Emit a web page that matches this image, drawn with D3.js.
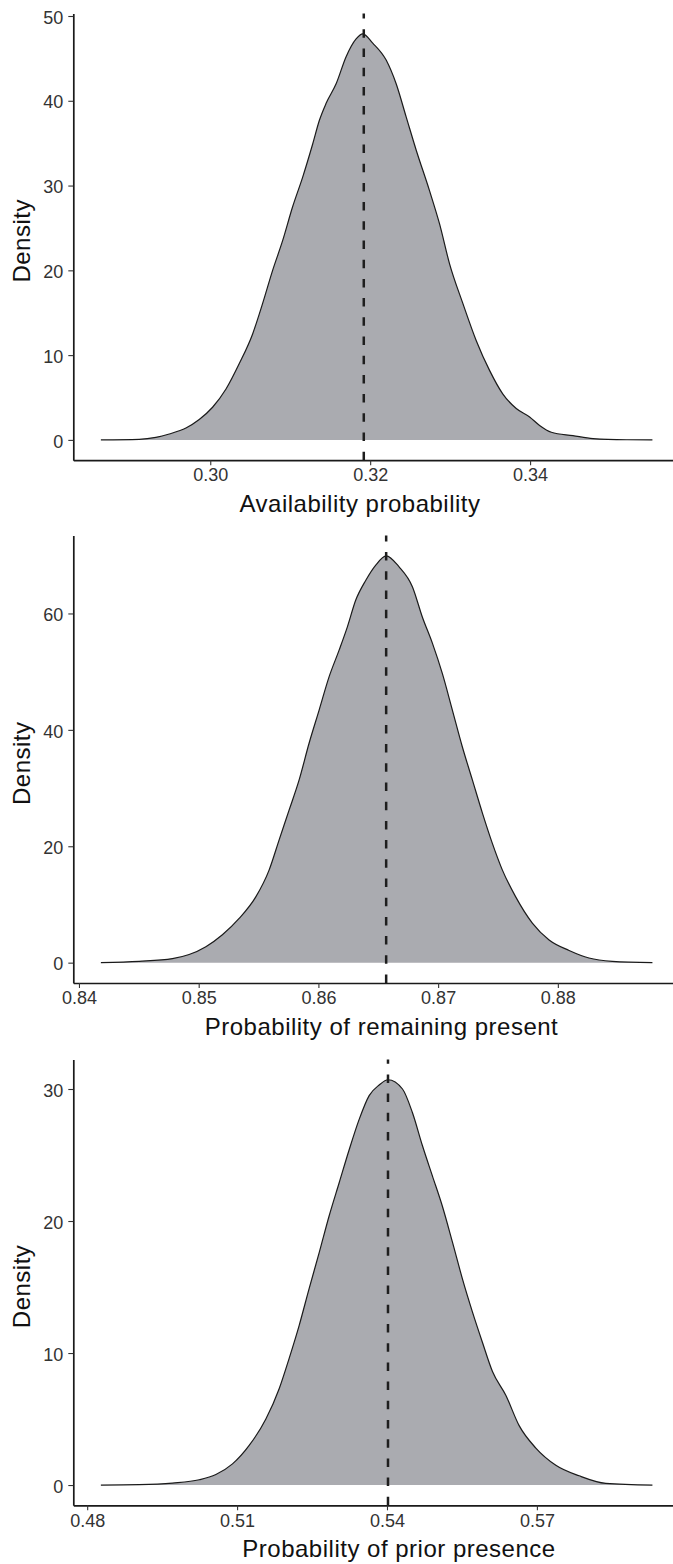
<!DOCTYPE html>
<html>
<head>
<meta charset="utf-8">
<script src="https://cdn.jsdelivr.net/npm/d3@7"></script>
<style>
  body { margin: 0; background: #fff; }
  svg { display: block; font-family: "Liberation Sans", Arial, sans-serif; }
</style>
</head>
<body>
<div class="chart"></div>
<script>
// posterior density curves
const availX = [0.28632, 0.29111, 0.2932, 0.29487, 0.29696, 0.29862, 0.30029, 0.30197, 0.30363, 0.3053, 0.30655, 0.3078, 0.30905, 0.3103, 0.31156, 0.31281, 0.31365, 0.31449, 0.31574, 0.31699, 0.31824, 0.31907, 0.32032, 0.322, 0.32325, 0.3245, 0.32575, 0.32742, 0.32867, 0.32992, 0.33159, 0.33327, 0.33493, 0.3366, 0.33827, 0.33994, 0.34119, 0.34266, 0.34536, 0.34787, 0.35204, 0.3553];
const availD = [0, 0.07, 0.3, 0.7, 1.4, 2.4, 3.85, 6.0, 9.0, 12.5, 16.1, 20.0, 23.5, 27.5, 31.0, 34.9, 37.7, 39.7, 42.0, 45.2, 47.3, 47.9, 46.8, 44.8, 42.0, 38.1, 34.2, 29.4, 25.5, 20.8, 16.1, 11.7, 8.2, 5.4, 3.7, 2.7, 1.7, 0.9, 0.5, 0.15, 0.02, 0];

const remainX = [0.84183, 0.84503, 0.84781, 0.8492, 0.8506, 0.85198, 0.85338, 0.85477, 0.85588, 0.85672, 0.85755, 0.85839, 0.85922, 0.86006, 0.86089, 0.86173, 0.86242, 0.86312, 0.86396, 0.86479, 0.86566, 0.86674, 0.86785, 0.86868, 0.86952, 0.87035, 0.87119, 0.87202, 0.87286, 0.8737, 0.87453, 0.87537, 0.87648, 0.87787, 0.87927, 0.88094, 0.8826, 0.88455, 0.8879];
const remainD = [0, 0.23, 0.7, 1.4, 2.75, 4.8, 7.6, 11.3, 15.9, 21.1, 26.2, 31.4, 37.7, 43.4, 49.1, 53.7, 57.7, 62.3, 65.7, 68.3, 69.9, 68.0, 64.6, 59.4, 54.9, 49.7, 43.4, 37.1, 31.4, 25.7, 20.5, 15.9, 11.3, 6.8, 3.9, 2.1, 0.8, 0.23, 0];

const priorX = [0.48274, 0.49041, 0.49707, 0.50241, 0.50576, 0.50908, 0.51242, 0.51576, 0.51842, 0.52042, 0.52243, 0.52443, 0.52643, 0.52843, 0.53043, 0.53243, 0.53443, 0.53643, 0.53843, 0.5402, 0.5431, 0.5451, 0.5471, 0.5491, 0.5511, 0.5531, 0.55511, 0.55711, 0.55911, 0.56111, 0.56378, 0.56645, 0.56979, 0.57379, 0.57846, 0.58379, 0.59312];
const priorD = [0, 0.03, 0.15, 0.4, 0.8, 1.6, 3.0, 5.0, 7.3, 9.6, 12.1, 14.9, 17.6, 20.4, 22.9, 25.4, 27.7, 29.5, 30.3, 30.7, 30.0, 28.2, 25.7, 23.4, 21.1, 18.4, 15.6, 13.1, 10.8, 8.6, 6.8, 4.5, 2.8, 1.5, 0.7, 0.13, 0];

// posterior means (dashed lines)
const means = [0.3192, 0.86566, 0.5402];

const xTickVals = [[0.30, 0.32, 0.34], [0.84, 0.85, 0.86, 0.87, 0.88], [0.48, 0.51, 0.54, 0.57]];
const yTickVals = [[0, 10, 20, 30, 40, 50], [0, 20, 40, 60], [0, 10, 20, 30]];
const xTitles = ["Availability probability", "Probability of remaining present", "Probability of prior presence"];
const yTitle = "Density";

const panels = [
  {x: availX, d: availD},
  {x: remainX, d: remainD},
  {x: priorX, d: priorD}
].map((p, i) => ({
  pts: p.x.map((v, j) => ({x: v, d: p.d[j]})),
  mean: means[i],
  xTicks: xTickVals[i],
  yTicks: yTickVals[i],
  title: xTitles[i]
}));

// layout
const width = 673, height = 1564;
const left = 73.3, right = 680;
const tops = [13.5, 535.5, 1059.5];
const bottoms = [460.2, 983, 1505.3];
const titleCx = [360, 381.5, 399];

const svg = d3.select('.chart')
  .append('svg')
  .attr('width', width)
  .attr('height', height);

panels.forEach((p, i) => {
  const top = tops[i], bottom = bottoms[i];
  const ext = d3.extent(p.pts, d => d.x);
  const pad = (ext[1] - ext[0]) * 0.05;
  const x = d3.scaleLinear().domain([ext[0] - pad, ext[1] + pad]).range([left, right]);
  const maxD = d3.max(p.pts, d => d.d);
  const y = d3.scaleLinear().domain([-0.05 * maxD, 1.05 * maxD]).range([bottom, top]);

  const g = svg.append('g');

  g.append('path')
    .datum(p.pts)
    .attr('fill', '#aaabb0')
    .attr('d', d3.area().curve(d3.curveMonotoneX)
      .x(d => x(d.x)).y0(y(0)).y1(d => y(d.d)));

  g.append('path')
    .datum(p.pts)
    .attr('fill', 'none')
    .attr('stroke', '#1a1a1a')
    .attr('stroke-width', 1.2)
    .attr('d', d3.line().curve(d3.curveMonotoneX)
      .x(d => x(d.x)).y(d => y(d.d)));

  // mean line, drawn from the bottom up
  g.append('line')
    .attr('x1', x(p.mean)).attr('x2', x(p.mean))
    .attr('y1', bottom).attr('y2', top)
    .attr('stroke', '#1e1e1e')
    .attr('stroke-width', 2.5)
    .attr('stroke-dasharray', '8.5 10.7');

  const xAxis = g.append('g')
    .attr('transform', `translate(0,${bottom})`)
    .call(d3.axisBottom(x).tickValues(p.xTicks).tickFormat(d3.format('.2f'))
      .tickSize(5).tickSizeOuter(0).tickPadding(3.5));

  const yAxis = g.append('g')
    .attr('transform', `translate(${left},0)`)
    .call(d3.axisLeft(y).tickValues(p.yTicks)
      .tickSize(5).tickSizeOuter(0).tickPadding(5));

  [xAxis, yAxis].forEach(a => {
    a.select('.domain').attr('stroke', '#1a1a1a').attr('stroke-width', 1.7);
    a.selectAll('.tick line').attr('stroke', '#333').attr('stroke-width', 1.1);
    a.selectAll('.tick text')
      .attr('fill', '#333')
      .attr('font-size', '18px')
      .attr('font-family', '"Liberation Sans", Arial, sans-serif');
  });
  yAxis.selectAll('.tick text').attr('dy', '0.4em');

  g.append('text')
    .text(p.title)
    .attr('x', titleCx[i])
    .attr('y', bottom + 52)
    .attr('text-anchor', 'middle')
    .attr('font-size', '24px')
    .attr('letter-spacing', '0.5px')
    .attr('fill', '#111');

  g.append('text')
    .text(yTitle)
    .attr('transform', `translate(29.5,${(top + bottom) / 2 + 4}) rotate(-90)`)
    .attr('text-anchor', 'middle')
    .attr('font-size', '24px')
    .attr('letter-spacing', '0.5px')
    .attr('fill', '#111');
});
</script>
</body>
</html>
